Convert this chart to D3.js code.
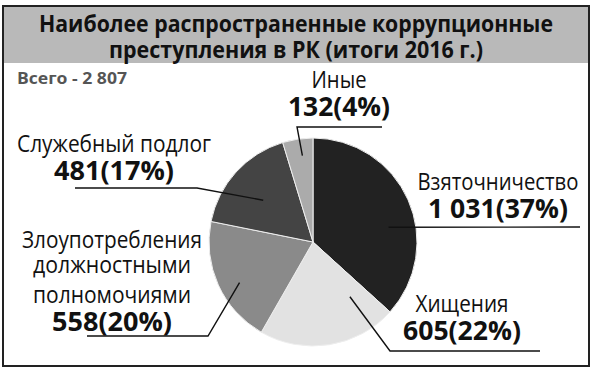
<!doctype html>
<html lang="ru">
<head>
    <meta charset="UTF-8">
    <title>Коррупционные преступления</title>
    <style>
        body { margin: 0; background: #fff; }
        text { font-family: "Open Sans", "Noto Sans", sans-serif; }
    </style>
</head>
<body>

<div class="canvas">
    <svg width="600" height="374"></svg>
</div>

<script src="https://d3js.org/d3.v7.min.js"></script>
<script>
    // данные
    const categories = ['Взяточничество', 'Хищения', 'Злоупотребления должностными полномочиями', 'Служебный подлог', 'Иные'];
    const values = [1031, 605, 558, 481, 132];
    const percents = [37, 22, 20, 17, 4];
    const titleLines = ['Наиболее распространенные коррупционные', 'преступления в РК (итоги 2016 г.)'];
    const totalLabel = 'Всего - 2 807';

    const colors = ['#222222', '#e2e2e2', '#8a8a8a', '#444444', '#ababab'];

    // разметка подписей: строки названия, центр подписи, куда ведёт выноска
    const labelLayout = [
        { lines: ['Взяточничество'], x: 498, y: 190, w: [161], nw: 140, ang: 79, r: 77, path: [[580, 227]] },
        { lines: ['Хищения'], x: 462, y: 312, w: [93], nw: 118, ang: 146, r: 66, path: [[390, 351], [540, 351]] },
        { lines: ['Злоупотребления', 'должностными', 'полномочиями'], x: 112, y: 248, w: [180, 158, 158], nw: 120, ang: 241, r: 84, path: [[208, 336], [87, 336]], gaps: [25, 30] },
        { lines: ['Служебный подлог'], x: 114, y: 152, w: [194], nw: 120, ang: 310, r: 65, path: [[197, 188], [75, 188]] },
        { lines: ['Иные'], x: 339, y: 88, w: [55], nw: 102, ang: 353, r: 87, path: [[297, 127], [382, 127]] }
    ];

    const svg = d3.select('.canvas svg');
    const cx = 313, cy = 242, radius = 104;

    // рамка и шапка
    svg.append('rect')
        .attr('x', 3).attr('y', 6)
        .attr('width', 586).attr('height', 360)
        .attr('fill', '#fff')
        .attr('stroke', '#222')
        .attr('stroke-width', 2);

    svg.append('rect')
        .attr('x', 4).attr('y', 7)
        .attr('width', 584).attr('height', 56)
        .attr('fill', '#b9b9b9');

    const titleWidths = [514, 374];
    svg.selectAll('.title')
        .data(titleLines)
        .enter()
        .append('text')
        .attr('class', 'title')
        .attr('x', 296)
        .attr('y', (d, i) => 32 + i * 26)
        .attr('text-anchor', 'middle')
        .attr('font-size', 23)
        .attr('font-weight', 700)
        .attr('fill', '#111')
        .attr('textLength', (d, i) => titleWidths[i])
        .attr('lengthAdjust', 'spacingAndGlyphs')
        .text(d => d);

    svg.append('text')
        .attr('x', 17).attr('y', 84)
        .attr('font-size', 16)
        .attr('font-weight', 700)
        .attr('fill', '#555')
        .attr('textLength', 110)
        .attr('lengthAdjust', 'spacingAndGlyphs')
        .text(totalLabel);

    // круговая диаграмма
    const pie = d3.pie().sort(null).value(d => d);
    const arc = d3.arc().innerRadius(0).outerRadius(radius);
    const arcs = pie(values);

    const g = svg.append('g').attr('transform', `translate(${cx},${cy})`);

    g.selectAll('path')
        .data(arcs)
        .enter()
        .append('path')
        .attr('d', arc)
        .attr('fill', (d, i) => colors[i])
        .attr('stroke', '#eee')
        .attr('stroke-width', 1);

    // выноски
    const fmt = d3.formatLocale({ decimal: ',', thousands: ' ', grouping: [3], currency: ['', ''] }).format(',d');

    arcs.forEach((a, i) => {
        const L = labelLayout[i];
        const rad = L.ang * Math.PI / 180;
        const start = [cx + L.r * Math.sin(rad), cy - L.r * Math.cos(rad)];
        const pts = [start].concat(L.path);
        svg.append('path')
            .attr('d', d3.line()(pts))
            .attr('fill', 'none')
            .attr('stroke', '#111')
            .attr('stroke-width', 1.4);

        let y = L.y;
        L.lines.forEach((line, j) => {
            if (j > 0) y += L.gaps[j - 1];
            svg.append('text')
                .attr('x', L.x).attr('y', y)
                .attr('text-anchor', 'middle')
                .attr('font-size', 23)
                .attr('fill', '#111')
                .attr('textLength', L.w[j])
                .attr('lengthAdjust', 'spacingAndGlyphs')
                .text(line);
        });

        svg.append('text')
            .attr('x', L.x).attr('y', y + 28)
            .attr('text-anchor', 'middle')
            .attr('font-size', 26)
            .attr('font-weight', 700)
            .attr('fill', '#111')
            .attr('textLength', L.nw)
            .attr('lengthAdjust', 'spacingAndGlyphs')
            .text(`${fmt(values[i])}(${percents[i]}%)`);
    });
</script>
</body>
</html>
